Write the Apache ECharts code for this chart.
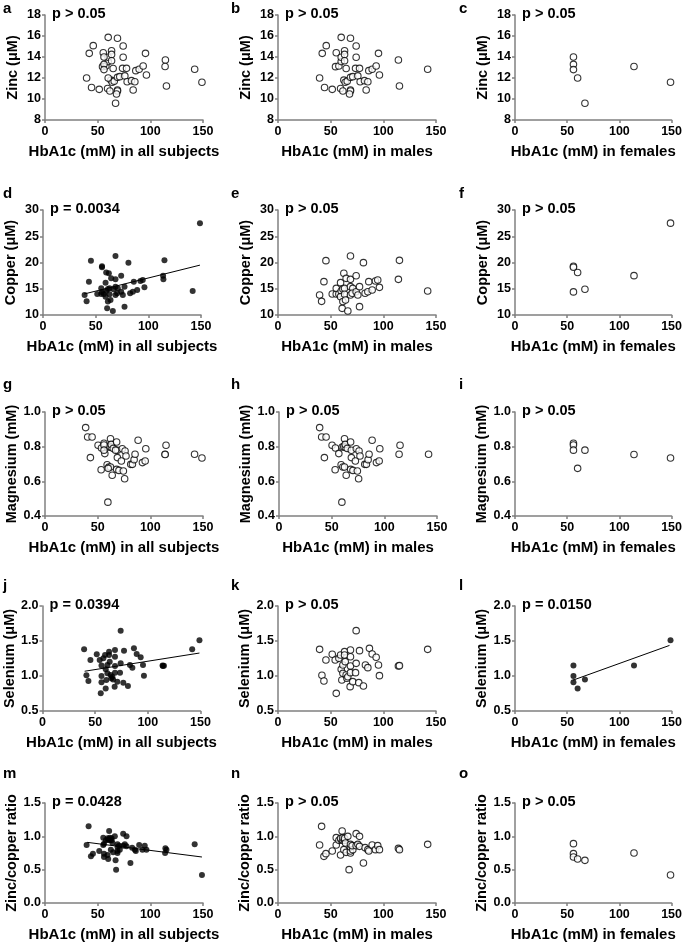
<!DOCTYPE html>
<html><head><meta charset="utf-8">
<script src="https://cdn.jsdelivr.net/npm/echarts@6/dist/echarts.min.js"></script>
<style>html,body{margin:0;padding:0;background:#fff}#c{width:685px;height:944px}</style>
</head><body><div id="c"></div><script>
// ---------- data (HbA1c, value) ----------
const zincMale = [[39.5,12.0],[42,14.35],[44.2,11.1],[45.8,15.08],[51.5,10.92],[55.3,14.4],[54.6,13.08],[57.8,13.14],[60,15.87],[60,13.56],[60,13.97],[59.4,11.0],[61.6,10.76],[63.2,14.6],[63.2,14.25],[63.2,13.65],[64.7,12.9],[62.5,11.8],[63.8,11.6],[65.7,11.7],[68.8,15.78],[68.8,12.06],[68.8,10.86],[68.8,10.76],[67.9,10.48],[71,12.13],[74.2,15.05],[74.2,13.97],[73.6,12.92],[77.4,12.92],[75.8,12.2],[78,11.65],[82.1,11.75],[85.3,11.65],[83.7,10.86],[86.2,12.7],[89.4,12.83],[93.2,13.14],[95.4,14.35],[96.3,12.29],[114.3,13.71],[115.3,11.24],[142.1,12.83]];
const zincFemale = [[56,14.0],[56,13.3],[56,12.8],[60,12.0],[67,9.6],[114,13.1],[149,11.6]];

const copperMale = [[39.5,13.8],[41.4,12.6],[43.6,16.35],[45.5,20.35],[51.5,14.0],[55.3,14.0],[55.3,15.08],[57.8,14.0],[59.4,16.16],[60,14.57],[59.4,13.5],[60.9,11.27],[61.6,12.57],[61.6,14.95],[62.5,17.94],[63.2,15.08],[63.2,13.94],[64.7,16.98],[64.1,12.86],[66.3,10.76],[68.8,21.24],[68.8,16.79],[68.8,15.4],[68.8,13.81],[71,15.08],[70.4,14.13],[74.2,17.49],[74.2,14.44],[75.8,13.81],[77.4,15.4],[77.4,11.59],[81.1,19.97],[82.7,14.13],[85.3,14.44],[86.2,16.35],[89.4,14.76],[92.5,16.48],[94.7,16.67],[96.3,15.27],[114.3,16.79],[115.3,20.41],[142.1,14.57]];
const copperFemale = [[56,19.3],[56,19.1],[56,14.4],[60,18.1],[67,14.9],[114,17.5],[149,27.5]];

const mgMale = [[38.6,0.91],[40.5,0.856],[44.7,0.856],[43.1,0.737],[50.4,0.808],[53.6,0.792],[56.8,0.76],[53.3,0.667],[59,0.696],[60.6,0.683],[60,0.798],[61.5,0.8],[63,0.797],[62.2,0.846],[62.9,0.813],[64.8,0.79],[62.2,0.683],[63.8,0.635],[59.7,0.48],[68,0.827],[68.7,0.779],[68.7,0.737],[68,0.669],[70.2,0.663],[72.5,0.717],[73.4,0.788],[76,0.775],[76.9,0.746],[74.4,0.66],[75.6,0.615],[81.4,0.698],[83,0.698],[84.6,0.725],[85.5,0.756],[88.4,0.837],[92.5,0.708],[95.1,0.717],[95.7,0.788],[114,0.756],[114.9,0.808],[142,0.756]];
const mgFemale = [[56,0.82],[56,0.81],[56,0.78],[60,0.675],[67,0.78],[114,0.755],[149,0.735]];

const seMale = [[39.5,1.381],[41.7,1.01],[43.6,0.929],[45.5,1.229],[51.5,1.31],[54.3,1.229],[55.3,0.752],[57.8,1.252],[59.4,1.3],[60,1.095],[60.6,0.943],[61.6,1.157],[61.6,1.038],[63.2,1.348],[63.2,1.3],[63.8,1.205],[64.7,1.014],[65.4,0.967],[66.3,0.99],[68.8,1.371],[68.8,1.276],[68.8,1.143],[68.8,1.048],[68.5,0.848],[71,0.919],[73.6,1.048],[74.2,1.648],[74.2,1.181],[76.7,0.905],[77.4,1.362],[81.1,0.857],[83,1.157],[85.3,1.119],[86.8,1.395],[89.4,1.314],[93.2,1.267],[95.4,1.157],[96.3,1.005],[114.3,1.143],[115.3,1.148],[142.1,1.381]];
const seFemale = [[56,1.15],[56,1.0],[56,0.91],[60,0.82],[67,0.95],[114,1.15],[149,1.51]];

const ratioMale = [[39.5,0.87],[41.4,1.15],[43.6,0.7],[45.5,0.74],[51.5,0.78],[55.3,0.98],[55.3,0.87],[57.8,0.94],[59.4,0.72],[60,0.95],[59.4,0.97],[60.9,1.08],[61.6,0.94],[61.6,0.98],[62.5,0.8],[63.2,0.94],[63.2,0.97],[64.7,0.76],[64.1,0.9],[66.3,1.0],[67.5,0.5],[68.8,0.75],[68.8,0.78],[68.8,0.84],[68.8,0.88],[71,0.8],[70.4,0.86],[74.2,0.86],[74.2,1.04],[75.8,0.88],[77.4,0.85],[77.4,1.0],[81.1,0.6],[82.7,0.83],[85.3,0.8],[86.2,0.78],[89.4,0.87],[92.5,0.8],[94.7,0.86],[96.3,0.8],[114.3,0.82],[115.3,0.8],[142.1,0.88]];
const ratioFemale = [[56,0.89],[56,0.74],[56,0.69],[60,0.66],[67,0.64],[114,0.75],[149,0.42]];

// regression line end points
const fitCopperAll = [[39,14.0],[149,19.5]];
const fitSeAll = [[40,1.068],[149,1.328]];
const fitSeFemale = [[55.5,0.94],[148,1.437]];
const fitRatioAll = [[40,0.91],[149,0.69]];

const pTexts = [
  ['p > 0.05','p > 0.05','p > 0.05'],
  ['p = 0.0034','p > 0.05','p > 0.05'],
  ['p > 0.05','p > 0.05','p > 0.05'],
  ['p = 0.0394','p > 0.05','p = 0.0150'],
  ['p = 0.0428','p > 0.05','p > 0.05']
];
const yNames = ['Zinc (μM)','Copper (μM)','Magnesium (mM)','Selenium (μM)','Zinc/copper ratio'];
const xNames = ['HbA1c (mM) in all subjects','HbA1c (mM) in males','HbA1c (mM) in females'];
const letters = [['a','b','c'],['d','e','f'],['g','h','i'],['j','k','l'],['m','n','o']];

// ---------- layout ----------
const rowsCfg = [
  {min:8, max:18, interval:2, dec:0, top:15, h:105, lefts:[45,278,515], letterY:1},
  {min:10, max:30, interval:5, dec:0, top:210, h:105, lefts:[43,278,515], letterY:186},
  {min:0.4, max:1.0, interval:0.2, dec:1, top:412, h:104, lefts:[45,279,515], letterY:377},
  {min:0.5, max:2.0, interval:0.5, dec:1, top:606, h:105, lefts:[42.5,278,515], letterY:578},
  {min:0, max:1.5, interval:0.5, dec:1, top:803, h:100, lefts:[45,278,515], letterY:766}
];
const colLetterX = [3, 231, 459];
const plotW = 158;

const maleSets = [zincMale, copperMale, mgMale, seMale, ratioMale];
const femaleSets = [zincFemale, copperFemale, mgFemale, seFemale, ratioFemale];
const filled = {'1-0':true,'3-0':true,'3-2':true,'4-0':true};
const fits = {'1-0':fitCopperAll,'3-0':fitSeAll,'3-2':fitSeFemale,'4-0':fitRatioAll};

const FONT = '"Liberation Sans", Arial, sans-serif';
const axisColor = '#808080';

const grid = [], xAxis = [], yAxis = [], series = [], graphic = [];
for (let r = 0; r < 5; r++) {
  const rc = rowsCfg[r];
  for (let c = 0; c < 3; c++) {
    const gi = r*3 + c;
    const left = rc.lefts[c];
    grid.push({left: left, top: rc.top, width: plotW, height: rc.h, containLabel: false});
    xAxis.push({
      gridIndex: gi, type: 'value', min: 0, max: 150, interval: 50,
      axisLine: {show: true, onZero: false, lineStyle: {color: axisColor, width: 1.5}},
      axisTick: {show: true, length: 3, lineStyle: {color: axisColor, width: 1.5}},
      splitLine: {show: false},
      axisLabel: {color: '#000', fontWeight: 'bold', fontSize: 12.5, fontFamily: FONT, margin: 5},
      name: xNames[c], nameLocation: 'middle', nameGap: 24,
      nameTextStyle: {color: '#000', fontWeight: 'bold', fontSize: 15, fontFamily: FONT}
    });
    yAxis.push({
      gridIndex: gi, type: 'value', min: rc.min, max: rc.max, interval: rc.interval,
      axisLine: {show: true, onZero: false, lineStyle: {color: axisColor, width: 1.5}},
      axisTick: {show: true, length: 3, lineStyle: {color: axisColor, width: 1.5}},
      splitLine: {show: false},
      axisLabel: {color: '#000', fontWeight: 'bold', fontSize: 12.5, fontFamily: FONT, margin: 4,
        formatter: (v) => v.toFixed(rc.dec)},
      name: yNames[r], nameLocation: 'middle', nameRotate: 90, nameGap: 25,
      nameTextStyle: {color: '#000', fontWeight: 'bold', fontSize: 14.5, fontFamily: FONT}
    });
    const key = r + '-' + c;
    const data = c === 0 ? maleSets[r].concat(femaleSets[r]) : (c === 1 ? maleSets[r] : femaleSets[r]);
    const isFilled = !!filled[key];
    series.push({
      type: 'scatter', xAxisIndex: gi, yAxisIndex: gi, data: data,
      symbol: 'circle', symbolSize: isFilled ? 6 : 6.5,
      itemStyle: isFilled ? {color: '#000'} : {color: '#fff', borderColor: '#000', borderWidth: 1.1},
      silent: true, animation: false, z: 3
    });
    if (fits[key]) {
      series.push({
        type: 'line', xAxisIndex: gi, yAxisIndex: gi, data: fits[key],
        symbol: 'none', lineStyle: {color: '#000', width: 1}, silent: true, animation: false, z: 2
      });
    }
    graphic.push({type: 'text', left: left + 7, top: rc.top - 9,
      style: {text: pTexts[r][c], fill: '#000', font: 'bold 14.5px ' + FONT}});
    graphic.push({type: 'text', left: colLetterX[c], top: rc.letterY,
      style: {text: letters[r][c], fill: '#000', font: 'bold 15px ' + FONT}});
  }
}

const chart = echarts.init(document.getElementById('c'), null, {renderer: 'canvas'});
chart.setOption({animation: false, backgroundColor: '#fff', grid, xAxis, yAxis, series, graphic});
</script></body></html>
